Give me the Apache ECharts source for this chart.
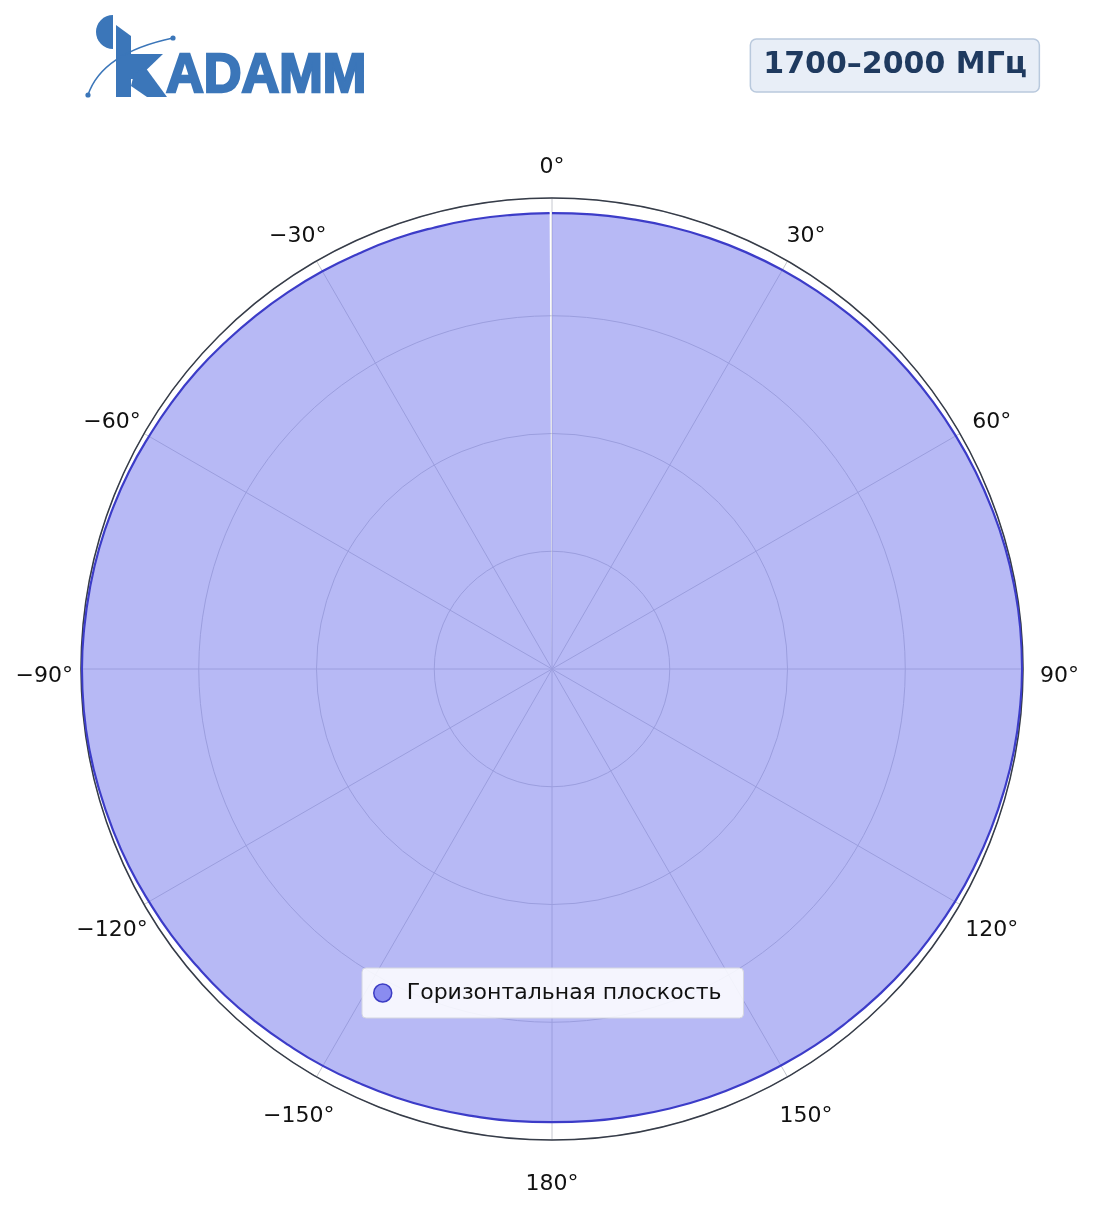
<!DOCTYPE html>
<html>
<head>
<meta charset="utf-8">
<script src="https://cdn.jsdelivr.net/npm/echarts@6/dist/echarts.min.js"></script>
<style>
  html, body { margin: 0; padding: 0; background: #ffffff; }
  #chart { width: 1104px; height: 1211px; }
</style>
</head>
<body>
<div id="chart"></div>
<script>
// ---- Data ----
const titleText = '1700–2000 МГц';
const seriesName = 'Горизонтальная плоскость';
// azimuth angles in degrees (0 = top, clockwise), traced from 0 round to just before 360
const angles = [0, 5, 10, 15, 20, 25, 30, 35, 40, 45, 50, 55, 60, 65, 70, 75, 80, 85, 90,
  95, 100, 105, 110, 115, 120, 125, 130, 135, 140, 145, 150, 155, 160, 165, 170, 175, 180,
  -175, -170, -165, -160, -155, -150, -145, -140, -135, -130, -125, -120, -115, -110, -105, -100, -95, -90,
  -85, -80, -75, -70, -65, -60, -55, -50, -45, -40, -35, -30, -25, -20, -15, -10, -5, -0.3];
// normalized gain (linear, max = 1)
const gains = [0.968, 0.969, 0.970, 0.972, 0.974, 0.976, 0.978, 0.980, 0.982, 0.984, 0.986, 0.988, 0.990, 0.992, 0.994, 0.996, 0.997, 0.998, 0.998,
  0.997, 0.996, 0.994, 0.992, 0.990, 0.988, 0.985, 0.983, 0.980, 0.977, 0.975, 0.972, 0.970, 0.968, 0.966, 0.964, 0.963, 0.962,
  0.963, 0.964, 0.966, 0.968, 0.970, 0.973, 0.975, 0.978, 0.981, 0.983, 0.986, 0.988, 0.991, 0.993, 0.995, 0.997, 0.998, 0.998,
  0.997, 0.996, 0.995, 0.993, 0.991, 0.988, 0.986, 0.984, 0.981, 0.979, 0.977, 0.975, 0.973, 0.972, 0.970, 0.969, 0.968, 0.968];
// angle axis ticks (degrees) and radial ring ticks
const angleMin = -180, angleMax = 180, angleStep = 30;
const radiusMin = 0, radiusMax = 1, radiusStep = 0.25;

const seriesData = angles.map((a, i) => [gains[i], a]);

const LOGO = '#3b76b9';
const FONT = '"DejaVu Sans", "Noto Sans", sans-serif';
const LABEL_SIZE = 22;

// per-label padding [top, right, bottom, left] used to centre each angle label like the reference
const labelPad = {
  '-180': [73, 0, 0, 0], '-150': [63, 2, 0, 0], '-120': [35, 31, 0, 0], '-90': [14, 48, 0, 0],
  '-60': [0, 38, 20, 0], '-30': [0, 10, 48, 0], '0': [0, 0, 60, 0], '30': [0, 0, 48, 19],
  '60': [0, 0, 20, 47], '90': [14, 0, 0, 57], '120': [35, 0, 0, 40], '150': [63, 0, 0, 12]
};
function styleName(v) { return 'L' + (v < 0 ? 'm' + (-v) : String(v)); }
const labelRich = {};
Object.keys(labelPad).forEach(function (k) {
  labelRich[styleName(Number(k))] = {
    fontFamily: FONT, fontSize: LABEL_SIZE, color: '#111111', padding: labelPad[k]
  };
});

const chart = echarts.init(document.getElementById('chart'), null, { renderer: 'canvas' });

const option = {
  backgroundColor: '#ffffff',
  animation: false,
  title: {
    text: titleText,
    right: 64,
    top: 39,
    backgroundColor: '#e8eef7',
    borderColor: '#b9c9dd',
    borderWidth: 1.5,
    borderRadius: 6,
    padding: [10, 13, 10, 13],
    textStyle: {
      fontFamily: FONT,
      fontWeight: 'bold',
      fontSize: 30,
      lineHeight: 33,
      color: '#1f3a5f'
    }
  },
  legend: {
    left: 362,
    top: 968,
    orient: 'horizontal',
    backgroundColor: 'rgba(255,255,255,0.86)',
    borderColor: '#d4d6e0',
    borderWidth: 1,
    borderRadius: 4,
    padding: [14, 22, 14, 11],
    itemWidth: 18,
    itemHeight: 18,
    textStyle: { fontFamily: FONT, fontSize: 22, color: '#111111', padding: [0, 0, 0, 10] },
    data: [{
      name: seriesName,
      icon: 'circle',
      itemStyle: { color: '#8a8cf0', borderColor: '#3c3cc4', borderWidth: 1.5 }
    }]
  },
  polar: {
    center: [552, 669],
    radius: 471
  },
  angleAxis: {
    type: 'value',
    min: angleMin,
    max: angleMax,
    interval: angleStep,
    startAngle: -90,
    clockwise: true,
    axisLine: { show: true, lineStyle: { color: '#363c48', width: 1.5 } },
    axisTick: { show: false },
    splitLine: { show: true, lineStyle: { color: '#c6c8d0', width: 1 } },
    axisLabel: {
      show: true,
      margin: -40,
      fontFamily: FONT,
      fontSize: LABEL_SIZE,
      color: '#111111',
      rich: labelRich,
      formatter: function (v) {
        if (v === 180) return '';
        const shown = (v === -180) ? 180 : v;
        const txt = (shown < 0 ? '\u2212' + Math.abs(shown) : String(shown)) + '°';
        return '{' + styleName(v) + '|' + txt + '}';
      }
    }
  },
  radiusAxis: {
    type: 'value',
    min: radiusMin,
    max: radiusMax,
    interval: radiusStep,
    axisLine: { show: false },
    axisTick: { show: false },
    axisLabel: { show: false },
    splitLine: { show: true, lineStyle: { color: '#c6c8d0', width: 1 } }
  },
  series: [{
    name: seriesName,
    type: 'line',
    coordinateSystem: 'polar',
    data: seriesData,
    showSymbol: false,
    symbol: 'none',
    smooth: true,
    itemStyle: { color: '#8a8cf0' },
    lineStyle: { color: '#3c3cc8', width: 2.2 },
    areaStyle: { color: 'rgba(111,115,235,0.5)', opacity: 1 },
    z: 3
  }],
  graphic: [
    // logo: half disk
    { type: 'sector', shape: { cx: 113, cy: 32, r: 17, r0: 0, startAngle: Math.PI / 2, endAngle: Math.PI * 3 / 2, clockwise: true },
      style: { fill: LOGO } },
    // logo: stylised K
    { type: 'polygon', shape: { points: [[116, 25], [131, 36], [131, 97], [116, 97]] }, style: { fill: LOGO } },
    { type: 'polygon', shape: { points: [[131, 54], [163, 54], [137, 79], [131, 79]] }, style: { fill: LOGO } },
    { type: 'polygon', shape: { points: [[134, 74], [145, 67], [167, 97], [147, 97], [131, 86]] }, style: { fill: LOGO } },
    // logo: lettering
    { type: 'text', x: 166, y: 77, scaleX: 0.95,
      style: { text: 'ADAMM', font: 'bold 55px "Liberation Sans", Arial, sans-serif', fill: LOGO,
        stroke: LOGO, lineWidth: 2.5, verticalAlign: 'middle', align: 'left' } },
    // logo: orbit arc with dots
    { type: 'bezierCurve', shape: { x1: 88, y1: 95, cpx1: 102, cpy1: 53, x2: 173, y2: 38 },
      style: { stroke: LOGO, lineWidth: 1.5, fill: null } },
    { type: 'circle', shape: { cx: 88, cy: 95, r: 2.6 }, style: { fill: LOGO } },
    { type: 'circle', shape: { cx: 173, cy: 38, r: 2.6 }, style: { fill: LOGO } }
  ]
};

chart.setOption(option);
</script>
</body>
</html>
